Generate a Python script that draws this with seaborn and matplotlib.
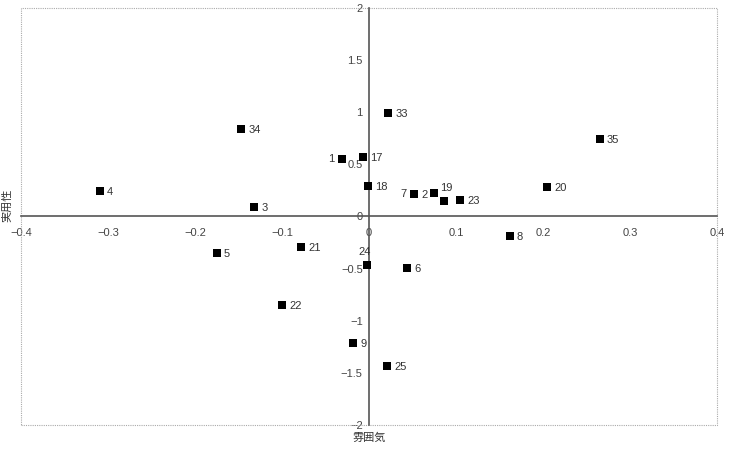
import matplotlib
matplotlib.use("Agg")
import matplotlib.pyplot as plt
import seaborn as sns
import pandas as pd
from matplotlib.patches import Rectangle

# --- data ---
labels = ["4", "34", "3", "1", "17", "18", "33", "2", "7", "19", "", "23", "20", "35",
          "21", "5", "24", "6", "8", "22", "9", "25"]
x_vals = [-0.309, -0.147, -0.132, -0.031, -0.007, -0.001, 0.022, 0.052, 0.052, 0.075, 0.086, 0.105, 0.205, 0.265,
          -0.078, -0.175, -0.002, 0.044, 0.162, -0.100, -0.018, 0.021]
y_vals = [0.245, 0.84, 0.09, 0.55, 0.57, 0.29, 0.99, 0.215, 0.215, 0.225, 0.15, 0.16, 0.285, 0.745,
          -0.29, -0.35, -0.465, -0.495, -0.19, -0.85, -1.21, -1.43]
x_ticks = [-0.4, -0.3, -0.2, -0.1, 0, 0.1, 0.2, 0.3, 0.4]
y_ticks = [-2, -1.5, -1, -0.5, 0, 0.5, 1, 1.5, 2]
x_title = "雰囲気"
y_title = "実用性"

df = pd.DataFrame({"x": x_vals, "y": y_vals, "label": labels})

sns.set_theme(style="white")
plt.rcParams["font.family"] = ["Liberation Sans", "Noto Sans CJK JP", "DejaVu Sans"]

fig = plt.figure(figsize=(7.3, 4.49), dpi=100)
ax = fig.add_axes([21/730, 1-425/449, (717-21)/730, (425-8)/449])

sns.scatterplot(data=df, x="x", y="y", marker="s", color="black", s=30,
                edgecolor="black", linewidth=0, ax=ax, zorder=3, legend=False)

# label placement (pixel offsets from marker center)
px = 72/100
offsets = {"1": (-8, 0, "right"), "7": (-8, 0, "right"), "24": (-3, 13, "center"),
           "19": (6, 5, "left")}
for _, r in df.iterrows():
    if not r["label"]:
        continue
    dx, dy, ha = offsets.get(r["label"], (7, -1, "left"))
    ax.annotate(r["label"], (r["x"], r["y"]), xytext=(dx*px, dy*px), textcoords="offset points",
                ha=ha, va="center", fontsize=8, color="#333333", zorder=4)

ax.set_xlim(-0.4, 0.4)
ax.set_ylim(-2, 2)
ax.set_xticks(x_ticks)
ax.set_yticks(y_ticks)
ax.set_xticklabels([f"{t:g}".replace("-", "−") for t in x_ticks])
ax.set_yticklabels([f"{t:g}".replace("-", "−") for t in y_ticks])

for side in ["left", "bottom"]:
    ax.spines[side].set_position("zero")
    ax.spines[side].set_color("#555555")
    ax.spines[side].set_linewidth(1.2)
for side in ["top", "right"]:
    ax.spines[side].set_visible(False)

ax.add_patch(Rectangle((0, 0), 1, 1, transform=ax.transAxes, fill=False,
                       edgecolor="#aaaaaa", linestyle=(0, (1, 1)), linewidth=0.8, zorder=1,
                       clip_on=False))

ax.tick_params(axis="both", which="both", direction="inout", length=5, width=0.8,
               color="#555555", labelsize=8, labelcolor="#444444")
ax.tick_params(axis="x", pad=6)
ax.tick_params(axis="y", pad=2)
ax.set_xlabel("")
ax.set_ylabel("")

fig.text(369/730, 1-438/449, x_title, ha="center", va="center", fontsize=8, color="#333333")
fig.text(7/730, 1-205/449, y_title, ha="center", va="center", fontsize=8, rotation=90, color="#333333")

fig.savefig("out.png", dpi=100)
